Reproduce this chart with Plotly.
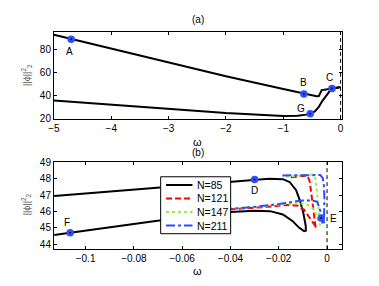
import plotly.graph_objects as go

# ---------------- Panel (a) data ----------------
wa_upper = [-5.0, -4.0, -3.0, -2.0, -1.0, -0.64, -0.5, -0.42, -0.38, -0.36, -0.33, -0.28, -0.22, -0.15, -0.08, -0.02, 0.0]
na_upper = [93.2, 81.1, 69.0, 57.0, 45.9, 41.7, 40.3, 39.6, 39.8, 42.5, 45.0, 45.4, 45.9, 46.4, 47.0, 47.6, 47.8]
wa_lower = [-5.0, -4.0, -3.0, -2.59, -2.0, -1.0, -0.75, -0.6, -0.53, -0.45, -0.38, -0.32, -0.26, -0.2, -0.15, -0.08, -0.02]
na_lower = [36.0, 32.3, 28.6, 27.3, 25.0, 22.5, 22.8, 23.7, 24.5, 26.5, 30.5, 35.5, 40.0, 43.5, 46.4, 46.9, 47.2]

pts_a_w = [-4.7, -0.64, -0.15, -0.53]
pts_a_n = [89.2, 41.7, 46.4, 24.5]
pts_a_lbl = ["A", "B", "C", "G"]

# ---------------- Panel (b) data ----------------
wb_85 = [-0.113, -0.0695, -0.04, -0.03, -0.024, -0.0183, -0.0155, -0.0128, -0.0112, -0.0098, -0.0088,
         -0.0088, -0.0095, -0.0115, -0.0142, -0.0183, -0.0236, -0.03, -0.04, -0.056, -0.0695, -0.1064, -0.113]
nb_85 = [46.94, 47.47, 47.83, 47.95, 48.0, 47.97, 47.8, 47.3, 46.65, 45.9, 45.1,
         44.82, 44.8, 45.0, 45.4, 45.82, 46.02, 46.05, 45.97, 45.78, 45.45, 44.7, 44.57]

wb_121 = [-0.015, -0.012, -0.0095, -0.008, -0.0072, -0.0066, -0.006, -0.0054, -0.0048, -0.0044,
          -0.0048, -0.0062, -0.0078, -0.0095, -0.012, -0.016, -0.025, -0.035, -0.045]
nb_121 = [48.08, 48.12, 48.18, 48.15, 47.85, 47.2, 46.4, 45.65, 45.1, 44.98,
          45.1, 45.4, 45.75, 46.1, 46.35, 46.4, 46.28, 46.18, 46.08]

wb_147 = [-0.017, -0.012, -0.008, -0.0058, -0.0048, -0.0042, -0.0037, -0.0033, -0.003, -0.0028,
          -0.0034, -0.0045, -0.006, -0.0085, -0.012, -0.018, -0.028, -0.038, -0.046]
nb_147 = [48.12, 48.18, 48.22, 48.25, 48.0, 47.4, 46.6, 45.8, 45.3, 45.15,
          45.35, 45.8, 46.2, 46.45, 46.5, 46.45, 46.3, 46.18, 46.1]

wb_211 = [-0.0185, -0.012, -0.006, -0.0028, -0.0018, -0.0013, -0.0011, -0.0011, -0.0013, -0.0018,
          -0.0024, -0.003, -0.0042, -0.0065, -0.0115, -0.02, -0.03, -0.04, -0.047]
nb_211 = [48.2, 48.2, 48.22, 48.22, 48.05, 47.6, 46.8, 45.6, 45.25, 45.2,
          45.6, 46.2, 46.6, 46.68, 46.65, 46.45, 46.28, 46.15, 46.08]

pts_b_w = [-0.03, -0.0024, -0.1064]
pts_b_n = [47.95, 45.6, 44.7]
pts_b_lbl = ["D", "E", "F"]

xa_ticks = [-5, -4, -3, -2, -1, 0]
ya_ticks = [20, 40, 60, 80]
xb_ticks = [-0.1, -0.08, -0.06, -0.04, -0.02, 0]
yb_ticks = [44, 45, 46, 47, 48, 49]

legend_names = ["N=85", "N=121", "N=147", "N=211"]
series_colors = ["black", "#ff0000", "#99ee44", "#2b4cff"]
series_dashes = ["solid", "6px,3px", "dot", "dashdot"]

FONT = "Liberation Sans"
BLUE_PT = "#2f4fff"
W, H = 379, 286

fig = go.Figure()

# panel (a) curves
fig.add_trace(go.Scatter(x=wa_upper, y=na_upper, mode="lines", line=dict(color="black", width=2),
                         showlegend=False, xaxis="x", yaxis="y"))
fig.add_trace(go.Scatter(x=wa_lower, y=na_lower, mode="lines", line=dict(color="black", width=2),
                         showlegend=False, xaxis="x", yaxis="y"))

# panel (b) curves
for xs, ys, nm, c, d in zip([wb_85, wb_121, wb_147, wb_211], [nb_85, nb_121, nb_147, nb_211],
                            legend_names, series_colors, series_dashes):
    fig.add_trace(go.Scatter(x=xs, y=ys, mode="lines", name=nm, showlegend=False,
                             line=dict(color=c, width=2, dash=d), xaxis="x2", yaxis="y2"))

# points
for xs, ys, xa, ya in [(pts_a_w, pts_a_n, "x", "y"), (pts_b_w, pts_b_n, "x2", "y2")]:
    fig.add_trace(go.Scatter(x=xs, y=ys, mode="markers", showlegend=False,
                             marker=dict(color=BLUE_PT, size=7.5, line=dict(width=0)), xaxis=xa, yaxis=ya))
    fig.add_trace(go.Scatter(x=xs, y=ys, mode="markers", showlegend=False,
                             marker=dict(color="#111133", size=2, line=dict(width=0)), xaxis=xa, yaxis=ya))

# point labels
offs_a = {"A": (-2, -12), "B": (0, 11), "C": (-3, 11), "G": (-9, 5)}
for w, n, t in zip(pts_a_w, pts_a_n, pts_a_lbl):
    dx, dy = offs_a[t]
    fig.add_annotation(x=w, y=n, xref="x", yref="y", text=t, showarrow=False, xanchor="center", yanchor="middle",
                       xshift=dx, yshift=dy, font=dict(size=10, color="black", family=FONT))
offs_b = {"D": (0, -11), "E": (12, 0), "F": (-3, 10)}
for w, n, t in zip(pts_b_w, pts_b_n, pts_b_lbl):
    dx, dy = offs_b[t]
    fig.add_annotation(x=w, y=n, xref="x2", yref="y2", text=t, showarrow=False, xanchor="center", yanchor="middle",
                       xshift=dx, yshift=dy, font=dict(size=10, color="black", family=FONT))

# dashed vertical lines at omega = 0
for xr, yr in [("x", "y domain"), ("x2", "y2 domain")]:
    fig.add_shape(type="line", x0=0, x1=0, y0=0, y1=1, xref=xr, yref=yr,
                  line=dict(color="black", width=1, dash="4px,3px"))

axis_common = dict(showline=True, linecolor="black", linewidth=1, mirror="ticks", ticks="inside",
                   ticklen=3, tickcolor="black", showgrid=False, zeroline=False,
                   tickfont=dict(size=10, color="black", family=FONT))

fig.update_layout(
    width=W, height=H, margin=dict(l=0, r=0, t=0, b=0),
    paper_bgcolor="white", plot_bgcolor="white",
    font=dict(family=FONT, size=10, color="black"),
    showlegend=False,
    xaxis=dict(domain=[49 / W, 343 / W], range=[-5, 0.02], tickvals=xa_ticks, anchor="y", **axis_common),
    yaxis=dict(domain=[1 - 118 / H, 1 - 28 / H], range=[20, 95.5], tickvals=ya_ticks, anchor="x", **axis_common),
    xaxis2=dict(domain=[49 / W, 343 / W], range=[-0.1131, 0.0061], tickvals=xb_ticks, anchor="y2", **axis_common),
    yaxis2=dict(domain=[1 - 253 / H, 1 - 163 / H], range=[43.7, 49], tickvals=yb_ticks, anchor="x2", **axis_common),
)

# manual legend box (MATLAB style)
fig.add_shape(type="rect", xref="paper", yref="paper", x0=158 / W, x1=229.5 / W,
              y0=1 - 237 / H, y1=1 - 178 / H, line=dict(color="black", width=1), fillcolor="white", layer="above")
row_y = [186.5, 200.5, 214.5, 228.5]
for ry, nm, c, d in zip(row_y, legend_names, series_colors, series_dashes):
    fig.add_shape(type="line", xref="paper", yref="paper", x0=163.5 / W, x1=190.5 / W,
                  y0=1 - ry / H, y1=1 - ry / H, line=dict(color=c, width=2, dash=d), layer="above")
    fig.add_annotation(x=193 / W, y=1 - ry / H, xref="paper", yref="paper", text=nm, showarrow=False,
                       xanchor="left", yanchor="middle", font=dict(size=10.5, family=FONT, color="black"))

# panel titles, axis titles
for yc, t in [(15, "(a)"), (153, "(b)")]:
    fig.add_annotation(x=196 / W, y=1 - yc / H, xref="paper", yref="paper", text=t, showarrow=False,
                       xanchor="center", yanchor="middle", font=dict(size=10, family=FONT))
for yc in [142, 276]:
    fig.add_annotation(x=196 / W, y=1 - yc / H, xref="paper", yref="paper", text="ω", showarrow=False,
                       xanchor="center", yanchor="middle", font=dict(size=11, family=FONT))
for yc in [73, 207]:
    fig.add_annotation(x=21 / W, y=1 - yc / H, xref="paper", yref="paper",
                       text="||ϕ||<sup>2</sup><sub>2</sub>", textangle=-90, showarrow=False,
                       xanchor="center", yanchor="middle",
                       font=dict(size=9, family=FONT, color="#555555"))

fig.write_html("out.html", config={"displayModeBar": False},
               post_script="document.body.style.margin='0px';")
